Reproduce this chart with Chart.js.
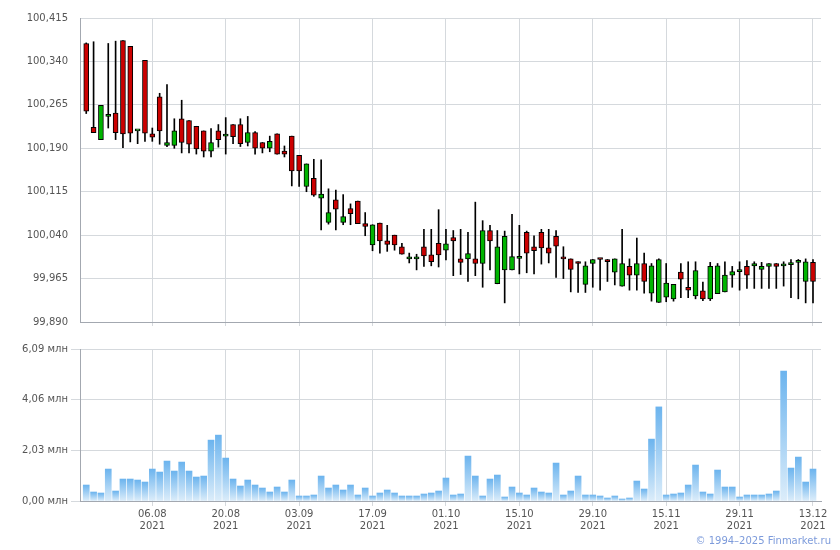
<!DOCTYPE html>
<html lang="ru">
<head>
<meta charset="utf-8">
<title>Finmarket</title>
<script src="https://cdn.jsdelivr.net/npm/chart.js"></script>
<style>
    html, body { margin: 0; padding: 0; background: #fff; }
    #wrap { position: relative; width: 840px; height: 550px; overflow: hidden; }
    #grafico-preco { position: absolute; left: 0; top: 0; }
    #grafico-volume { position: absolute; left: 0; top: 340px; }
    #copy { position: absolute; right: 9px; top: 535px; font: 10px "DejaVu Sans", Verdana, sans-serif; color: #7d9bdb; white-space: nowrap; }
</style>
</head>
<body>
<div id="wrap">
    <canvas id="grafico-preco" width="840" height="340"></canvas>
    <canvas id="grafico-volume" width="840" height="210"></canvas>
    <div id="copy">© 1994–2025 Finmarket.ru</div>
</div>
<script>
// Trading days
const dates = [
    '26.07.2021','27.07.2021','28.07.2021','29.07.2021','30.07.2021',
    '02.08.2021','03.08.2021','04.08.2021','05.08.2021','06.08.2021',
    '09.08.2021','10.08.2021','11.08.2021','12.08.2021','13.08.2021',
    '16.08.2021','17.08.2021','18.08.2021','19.08.2021','20.08.2021',
    '23.08.2021','24.08.2021','25.08.2021','26.08.2021','27.08.2021',
    '30.08.2021','31.08.2021','01.09.2021','02.09.2021','03.09.2021',
    '06.09.2021','07.09.2021','08.09.2021','09.09.2021','10.09.2021',
    '13.09.2021','14.09.2021','15.09.2021','16.09.2021','17.09.2021',
    '20.09.2021','21.09.2021','22.09.2021','23.09.2021','24.09.2021',
    '27.09.2021','28.09.2021','29.09.2021','30.09.2021','01.10.2021',
    '04.10.2021','05.10.2021','06.10.2021','07.10.2021','08.10.2021',
    '11.10.2021','12.10.2021','13.10.2021','14.10.2021','15.10.2021',
    '18.10.2021','19.10.2021','20.10.2021','21.10.2021','22.10.2021',
    '25.10.2021','26.10.2021','27.10.2021','28.10.2021','29.10.2021',
    '01.11.2021','02.11.2021','03.11.2021','05.11.2021','08.11.2021',
    '09.11.2021','10.11.2021','11.11.2021','12.11.2021','15.11.2021',
    '16.11.2021','17.11.2021','18.11.2021','19.11.2021','22.11.2021',
    '23.11.2021','24.11.2021','25.11.2021','26.11.2021','29.11.2021',
    '30.11.2021','01.12.2021','02.12.2021','03.12.2021','06.12.2021',
    '07.12.2021','08.12.2021','09.12.2021','10.12.2021','13.12.2021'
];

// OHLC
const open = [
    100.371, 100.226, 100.205, 100.245, 100.251, 100.376, 100.366, 100.220, 100.342, 100.215,
    100.279, 100.195, 100.195, 100.241, 100.238, 100.228, 100.220, 100.185, 100.220, 100.211,
    100.231, 100.231, 100.200, 100.217, 100.200, 100.190, 100.215, 100.185, 100.211, 100.178,
    100.124, 100.138, 100.104, 100.062, 100.101, 100.062, 100.086, 100.099, 100.060, 100.023,
    100.061, 100.030, 100.040, 100.020, 99.999, 99.999, 100.020, 100.006, 100.026, 100.014,
    100.036, 99.999, 99.999, 99.999, 99.991, 100.048, 99.956, 99.980, 99.980, 100.000,
    100.045, 100.020, 100.045, 100.018, 100.038, 100.001, 99.999, 99.994, 99.955, 99.991,
    99.999, 99.998, 99.976, 99.952, 99.986, 99.971, 99.991, 99.940, 99.924, 99.933,
    99.930, 99.976, 99.950, 99.935, 99.944, 99.930, 99.939, 99.942, 99.971, 99.977,
    99.986, 99.987, 99.981, 99.986, 99.991, 99.987, 99.989, 99.993, 99.960, 99.993
];
const high = [
    100.372, 100.374, 100.264, 100.371, 100.375, 100.376, 100.366, 100.220, 100.342, 100.225,
    100.285, 100.300, 100.241, 100.273, 100.238, 100.228, 100.220, 100.224, 100.231, 100.243,
    100.231, 100.241, 100.245, 100.219, 100.200, 100.211, 100.215, 100.194, 100.211, 100.178,
    100.163, 100.171, 100.170, 100.120, 100.118, 100.110, 100.094, 100.099, 100.079, 100.058,
    100.061, 100.057, 100.040, 100.026, 100.009, 100.007, 100.050, 100.050, 100.084, 100.050,
    100.048, 100.050, 100.045, 100.097, 100.065, 100.057, 100.048, 100.047, 100.076, 100.057,
    100.047, 100.039, 100.050, 100.050, 100.048, 100.020, 99.999, 99.994, 99.994, 99.998,
    99.999, 99.998, 99.999, 100.050, 99.999, 100.035, 100.009, 99.991, 99.999, 99.991,
    99.955, 99.991, 99.994, 99.994, 99.959, 99.993, 99.991, 99.994, 99.986, 99.994,
    99.996, 99.994, 99.993, 99.991, 99.991, 99.994, 99.998, 99.998, 99.999, 99.998
];
const low = [
    100.250, 100.217, 100.205, 100.225, 100.205, 100.191, 100.201, 100.198, 100.202, 100.202,
    100.197, 100.193, 100.190, 100.182, 100.182, 100.180, 100.175, 100.175, 100.192, 100.180,
    100.198, 100.193, 100.194, 100.180, 100.182, 100.184, 100.180, 100.175, 100.125, 100.124,
    100.115, 100.107, 100.049, 100.059, 100.049, 100.058, 100.058, 100.060, 100.039, 100.013,
    100.009, 100.012, 100.014, 100.007, 99.992, 99.980, 99.986, 99.987, 99.985, 99.997,
    99.970, 99.972, 99.960, 99.970, 99.950, 99.980, 99.956, 99.923, 99.980, 99.973,
    99.975, 99.973, 99.990, 99.992, 99.967, 99.965, 99.942, 99.941, 99.941, 99.950,
    99.945, 99.960, 99.954, 99.952, 99.945, 99.945, 99.940, 99.926, 99.924, 99.925,
    99.926, 99.932, 99.932, 99.930, 99.927, 99.927, 99.939, 99.942, 99.950, 99.945,
    99.948, 99.948, 99.948, 99.948, 99.948, 99.952, 99.932, 99.930, 99.923, 99.923
];
const close = [
    100.254, 100.217, 100.264, 100.245, 100.217, 100.215, 100.216, 100.220, 100.216, 100.209,
    100.220, 100.200, 100.220, 100.200, 100.197, 100.189, 100.185, 100.200, 100.205, 100.211,
    100.210, 100.198, 100.217, 100.190, 100.190, 100.202, 100.180, 100.180, 100.151, 100.151,
    100.163, 100.109, 100.111, 100.079, 100.085, 100.072, 100.077, 100.060, 100.055, 100.058,
    100.030, 100.024, 100.023, 100.007, 99.999, 99.999, 100.004, 99.994, 100.006, 100.025,
    100.030, 99.993, 100.008, 99.991, 100.048, 100.030, 100.020, 100.038, 100.003, 100.000,
    100.009, 100.013, 100.018, 100.009, 100.021, 99.999, 99.981, 99.991, 99.987, 99.998,
    99.998, 99.994, 99.999, 99.991, 99.971, 99.991, 99.960, 99.987, 99.998, 99.957,
    99.955, 99.964, 99.945, 99.979, 99.930, 99.986, 99.987, 99.971, 99.977, 99.977,
    99.971, 99.991, 99.986, 99.991, 99.986, 99.987, 99.989, 99.996, 99.994, 99.960
];

// Volume, mln
const volume = [
    0.64, 0.36, 0.32, 1.28, 0.40, 0.88, 0.88, 0.84, 0.76, 1.28,
    1.16, 1.60, 1.20, 1.56, 1.20, 0.96, 1.00, 2.44, 2.64, 1.72,
    0.88, 0.60, 0.84, 0.64, 0.52, 0.36, 0.56, 0.36, 0.84, 0.20,
    0.20, 0.24, 1.00, 0.52, 0.64, 0.44, 0.64, 0.24, 0.52, 0.20,
    0.32, 0.44, 0.32, 0.20, 0.20, 0.20, 0.28, 0.32, 0.40, 0.92,
    0.24, 0.28, 1.80, 1.00, 0.20, 0.88, 1.04, 0.16, 0.56, 0.32,
    0.24, 0.52, 0.36, 0.32, 1.52, 0.24, 0.40, 1.00, 0.24, 0.24,
    0.20, 0.12, 0.20, 0.08, 0.12, 0.80, 0.48, 2.48, 3.77, 0.24,
    0.28, 0.32, 0.64, 1.44, 0.36, 0.28, 1.24, 0.56, 0.56, 0.16,
    0.24, 0.24, 0.24, 0.28, 0.40, 5.21, 1.32, 1.76, 0.76, 1.28
];

// Tick values
const priceTicks = [99.890, 99.965, 100.040, 100.115, 100.190, 100.265, 100.340, 100.415];
const volumeTicks = [0, 2.03, 4.06, 6.09];
const dateTicks = [9, 19, 29, 39, 49, 59, 69, 79, 89, 99];

const GRID = '#d5d9dd';
const AXIS = '#a3a8b0';
const UP = '#00b400';
const DOWN = '#cc0000';

Chart.defaults.font.family = '"DejaVu Sans", Verdana, sans-serif';
Chart.defaults.font.size = 10;
Chart.defaults.color = '#555555';

function eixoX(comRotulos) {
    return {
        type: 'linear',
        min: -0.85,
        max: 100.09,
        offset: false,
        afterBuildTicks: s => { s.ticks = dateTicks.map(v => ({ value: v })); },
        afterFit: s => { s.height = comRotulos ? 49 : 14; },
        grid: { color: GRID, offset: false, tickLength: comRotulos ? 5 : 4 },
        border: { color: AXIS },
        ticks: {
            display: comRotulos,
            autoSkip: false,
            maxRotation: 0,
            padding: 2,
            callback: v => {
                const d = dates[v] || '';
                return [d.slice(0, 5), d.slice(6)];
            }
        }
    };
}

const basePlugins = { legend: { display: false }, tooltip: { enabled: false } };

// Candles: body + wick as floating bars
new Chart(document.getElementById('grafico-preco'), {
    type: 'bar',
    data: {
        datasets: [
            {
                label: 'body',
                data: open.map((o, i) => ({ x: i, y: [o, close[i]] })),
                backgroundColor: c => close[c.dataIndex] >= open[c.dataIndex] ? UP : DOWN,
                borderColor: '#000',
                borderWidth: 1,
                borderSkipped: false,
                barThickness: 5,
                minBarLength: 2,
                grouped: false
            },
            {
                label: 'wick',
                data: low.map((l, i) => ({ x: i, y: [l, high[i]] })),
                backgroundColor: '#000',
                borderWidth: 0,
                barThickness: 1,
                grouped: false
            }
        ]
    },
    options: {
        responsive: false,
        animation: false,
        layout: { padding: { top: 15, right: 19, left: 0, bottom: 0 } },
        plugins: basePlugins,
        scales: {
            x: eixoX(false),
            y: {
                min: 99.89,
                max: 100.415,
                afterBuildTicks: s => { s.ticks = priceTicks.map(v => ({ value: v })); },
                afterFit: s => { s.width = 80; },
                grid: { color: GRID, drawTicks: false },
                border: { color: AXIS },
                ticks: {
                    padding: 12,
                    callback: v => v.toFixed(3).replace('.', ',')
                }
            }
        }
    }
});

// Volume with gradient per bar
new Chart(document.getElementById('grafico-volume'), {
    type: 'bar',
    data: {
        datasets: [{
            label: 'volume',
            data: volume.map((v, i) => ({ x: i, y: v })),
            barThickness: 6,
            borderWidth: 0,
            backgroundColor: c => {
                const chart = c.chart;
                const ys = chart.scales.y;
                if (!chart.chartArea || !ys || !c.parsed) return '#9ccbf2';
                const top = ys.getPixelForValue(c.parsed.y);
                const bot = ys.getPixelForValue(0);
                const g = chart.ctx.createLinearGradient(0, top, 0, bot);
                g.addColorStop(0, '#6cb4ee');
                g.addColorStop(1, '#dcedfa');
                return g;
            }
        }]
    },
    options: {
        responsive: false,
        animation: false,
        layout: { padding: { top: 9, right: 19, left: 0, bottom: 0 } },
        plugins: basePlugins,
        scales: {
            x: eixoX(true),
            y: {
                min: 0,
                max: 6.09,
                afterBuildTicks: s => { s.ticks = volumeTicks.map(v => ({ value: v })); },
                afterFit: s => { s.width = 80; },
                grid: { color: GRID, tickLength: 9 },
                border: { color: AXIS },
                ticks: {
                    padding: 3,
                    callback: v => v.toFixed(2).replace('.', ',') + ' млн'
                }
            }
        }
    }
});
</script>
</body>
</html>
